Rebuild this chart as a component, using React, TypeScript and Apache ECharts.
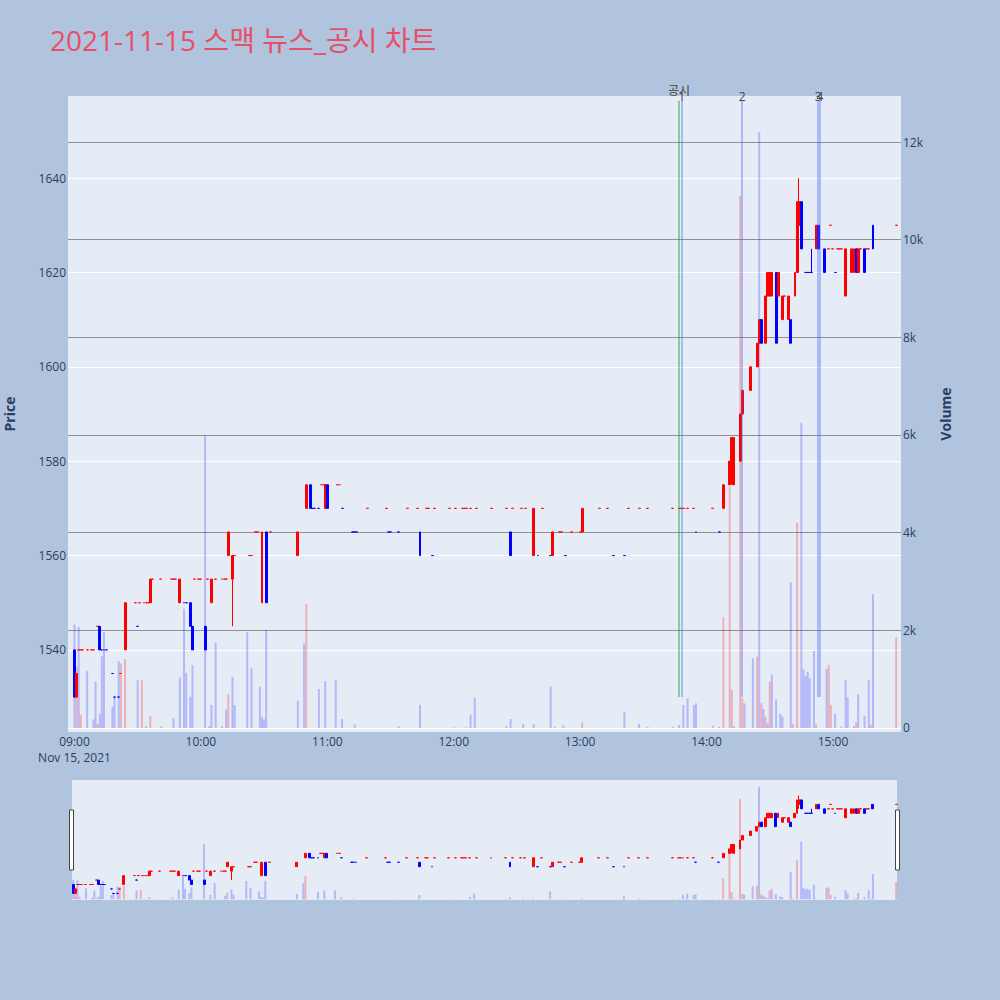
import React, { useEffect, useRef } from 'react';
import * as echarts from 'echarts';

const TITLE = '2021-11-15 스맥 뉴스_공시 차트';
const DATE_LABEL = 'Nov 15, 2021';
// minutes after 09:00
const timeTicks = [0, 60, 120, 180, 240, 300, 360];
const priceTicks = [1540, 1560, 1580, 1600, 1620, 1640];
const volumeTicks = [0, 2000, 4000, 6000, 8000, 10000, 12000];

// [minute, open, close]
const candleRows: number[][] = [
  [0, 1540, 1530], [1, 1530, 1535], [12, 1545, 1540], [24, 1540, 1550], [36, 1550, 1555],
  [50, 1550, 1555], [55, 1550, 1545], [56, 1545, 1540], [62, 1545, 1540], [65, 1550, 1555],
  [73, 1560, 1565], [75, 1555, 1560], [89, 1550, 1565], [91, 1565, 1550], [106, 1560, 1565],
  [110, 1570, 1575], [112, 1575, 1570], [119, 1570, 1575], [120, 1575, 1570], [164, 1565, 1560],
  [207, 1565, 1560], [218, 1560, 1570], [227, 1560, 1565], [241, 1565, 1570], [308, 1570, 1575],
  [311, 1575, 1580], [312, 1580, 1585], [313, 1575, 1585], [316, 1580, 1590], [317, 1590, 1595],
  [321, 1595, 1600], [324, 1600, 1605], [325, 1605, 1610], [326, 1610, 1605], [328, 1605, 1615],
  [329, 1615, 1620], [330, 1615, 1620], [331, 1615, 1620], [333, 1620, 1605], [334, 1615, 1620],
  [336, 1610, 1615], [339, 1610, 1615], [340, 1610, 1605], [342, 1615, 1620], [343, 1620, 1635],
  [344, 1630, 1635], [345, 1635, 1625], [352, 1625, 1630], [353, 1630, 1625], [356, 1625, 1620],
  [366, 1615, 1625], [369, 1620, 1625], [370, 1620, 1625], [371, 1625, 1620], [372, 1620, 1625],
  [375, 1625, 1620], [379, 1630, 1625],
];

// [minute, price, direction(1 up / -1 down)] : open == close
const dojiRows: number[][] = [
  [2, 1540, 1], [3, 1540, 1], [4, 1540, 1], [6, 1540, 1], [8, 1540, 1], [9, 1540, 1], [11, 1545, 1],
  [13, 1540, -1], [14, 1540, -1], [15, 1540, -1], [18, 1535, -1], [19, 1530, -1], [21, 1530, -1],
  [22, 1535, 1], [29, 1550, 1], [30, 1545, -1], [31, 1550, 1], [33, 1550, 1], [34, 1550, 1],
  [35, 1550, 1], [37, 1555, 1], [41, 1555, 1], [46, 1555, 1], [47, 1555, 1], [48, 1555, 1],
  [52, 1550, -1], [53, 1550, -1], [57, 1555, 1], [59, 1555, 1], [60, 1555, 1], [63, 1555, 1],
  [67, 1555, 1], [70, 1555, 1], [71, 1555, 1], [72, 1555, 1], [76, 1560, 1], [83, 1560, 1],
  [84, 1560, 1], [86, 1565, 1], [87, 1565, 1], [93, 1565, 1], [113, 1570, -1], [114, 1570, -1],
  [116, 1570, -1], [117, 1575, 1], [118, 1575, 1], [125, 1575, 1], [126, 1575, 1], [127, 1570, -1],
  [132, 1565, -1], [133, 1565, -1], [134, 1565, -1], [139, 1570, 1], [148, 1570, 1], [149, 1565, -1],
  [150, 1565, -1], [154, 1565, -1], [158, 1570, 1], [163, 1570, 1], [167, 1570, 1], [168, 1570, 1],
  [170, 1560, -1], [171, 1570, 1], [178, 1570, 1], [181, 1570, 1], [184, 1570, 1], [185, 1570, 1],
  [186, 1570, 1], [188, 1570, 1], [191, 1570, 1], [198, 1570, 1], [205, 1570, 1], [208, 1570, 1],
  [212, 1570, 1], [214, 1570, 1], [220, 1560, -1], [222, 1570, 1], [226, 1560, -1], [230, 1565, 1],
  [231, 1565, 1], [233, 1560, -1], [236, 1565, 1], [240, 1565, 1], [249, 1570, 1], [253, 1570, 1],
  [256, 1560, -1], [261, 1560, -1], [263, 1570, 1], [268, 1570, 1], [272, 1570, 1], [284, 1570, 1],
  [287, 1570, 1], [288, 1570, 1], [289, 1570, 1], [291, 1570, 1], [294, 1570, 1], [295, 1565, -1],
  [303, 1570, 1], [306, 1565, -1], [337, 1615, 1], [347, 1620, -1], [348, 1620, -1], [349, 1620, -1],
  [350, 1620, -1], [358, 1625, 1], [359, 1630, 1], [360, 1625, 1], [361, 1620, -1], [362, 1625, 1],
  [363, 1625, 1], [364, 1625, 1], [373, 1625, 1], [376, 1625, 1], [377, 1625, 1], [390, 1630, 1],
];

// [minute, low, high] for candles whose shadow exceeds the body
const wickRows: number[][] = [
  [75, 1545, 1560], [312, 1575, 1585], [344, 1625, 1640], [350, 1620, 1625],
];

// [minute, volume, direction]
const volumeRows: number[][] = [
  [0, 2120, -1], [1, 1250, 1], [2, 2070, -1], [3, 265, 1], [6, 1170, -1], [9, 177, -1], [10, 945, -1],
  [11, 82, 1], [12, 285, -1], [13, 1470, -1], [14, 1965, -1], [18, 435, -1], [19, 640, -1],
  [21, 1370, -1], [22, 1320, 1], [24, 1410, 1], [30, 980, -1], [32, 980, 1], [34, 40, -1],
  [36, 245, 1], [41, 30, -1], [47, 200, -1], [50, 1030, -1], [52, 2440, -1], [53, 1130, -1],
  [55, 640, -1], [56, 1285, -1], [62, 6000, -1], [64, 40, -1], [65, 470, -1], [67, 1750, -1],
  [70, 40, -1], [72, 380, -1], [73, 694, 1], [75, 1050, -1], [76, 470, -1], [82, 1965, -1],
  [84, 1220, -1], [88, 845, -1], [89, 230, -1], [90, 180, -1], [91, 2010, -1], [106, 560, -1],
  [109, 1730, -1], [110, 2540, 1], [116, 800, -1], [119, 965, -1], [124, 980, -1], [127, 185, -1],
  [133, 75, -1], [154, 27, -1], [164, 477, -1], [180, 14, -1], [186, 14, -1], [188, 273, -1],
  [190, 614, -1], [205, 40, -1], [207, 184, -1], [213, 82, -1], [218, 82, -1], [226, 846, -1],
  [228, 27, 1], [232, 55, -1], [241, 116, 1], [261, 327, -1], [268, 82, -1], [272, 27, -1],
  [284, 27, -1], [287, 61, -1], [289, 470, -1], [291, 607, -1], [294, 470, -1], [295, 505, -1],
  [303, 48, 1], [306, 27, -1], [308, 2264, 1], [311, 4940, 1], [312, 777, 1], [313, 40, -1],
  [316, 10900, 1], [317, 607, 1], [318, 505, -1], [322, 1425, -1], [324, 1460, 1], [325, 12200, -1],
  [326, 505, 1], [327, 390, -1], [328, 232, 1], [329, 95, -1], [330, 950, 1], [331, 1100, -1],
  [333, 587, -1], [335, 286, -1], [336, 232, -1], [340, 2980, -1], [341, 80, 1], [343, 4200, 1],
  [345, 6250, -1], [346, 1200, -1], [347, 1064, -1], [348, 1150, -1], [349, 1016, -1], [351, 1575, -1],
  [352, 80, 1], [357, 1207, -1], [358, 1290, 1], [359, 470, 1], [361, 286, -1], [364, 27, -1],
  [366, 982, -1], [367, 627, -1], [370, 40, -1], [371, 116, 1], [372, 689, -1], [375, 252, -1],
  [377, 982, -1], [378, 68, 1], [379, 2740, -1], [390, 1855, 1],
];

// news / disclosure markers (minutes after 09:00)
const newsTimes = [286.9, 288.2, 316.9, 353.0, 353.8];
const newsLabels = ['공시', '1', '2', '3', '4'];
const newsIsDisclosure = [true, false, false, false, false];
const NEWS_LOW = 1530;
const NEWS_HIGH = 1656.4;

const UP = '#ff0000';
const DOWN = '#0000ff';
const FONT = "'Open Sans', 'Noto Sans CJK KR', sans-serif";
const TICK_COLOR = '#2a3f5f';

function fmtTime(v: number) {
  const h = 9 + Math.floor(v / 60);
  const m = v % 60;
  return `${String(h).padStart(2, '0')}:${String(m).padStart(2, '0')}`;
}

function buildCandles() {
  const wick: Record<number, number[]> = {};
  wickRows.forEach((r) => { wick[r[0]] = [r[1], r[2]]; });
  const rows: { m: number; o: number; c: number; d: number }[] = [];
  candleRows.forEach((r) => rows.push({ m: r[0], o: r[1], c: r[2], d: r[2] > r[1] ? 1 : -1 }));
  dojiRows.forEach((r) => rows.push({ m: r[0], o: r[1], c: r[1], d: r[2] }));
  rows.sort((a, b) => a.m - b.m);
  return rows.map((r) => {
    const w = wick[r.m];
    const low = w ? w[0] : Math.min(r.o, r.c);
    const high = w ? w[1] : Math.max(r.o, r.c);
    const col = r.d > 0 ? UP : DOWN;
    return {
      value: [r.m, r.o, r.c, low, high],
      itemStyle: { color: col, color0: col, borderColor: col, borderColor0: col, borderColorDoji: col },
    };
  });
}

function buildVolumes() {
  return volumeRows.map((r) => ({
    value: [r[0], r[1]],
    itemStyle: { color: r[2] > 0 ? 'rgba(255,0,0,0.25)' : 'rgba(0,0,255,0.22)' },
  }));
}

export default function App() {
  const ref = useRef<HTMLDivElement>(null);
  useEffect(() => {
    document.body.style.margin = '0';
    if (!ref.current) return;
    const chart = echarts.init(ref.current, undefined, { renderer: 'svg' });
    const candles = buildCandles();
    const volumes = buildVolumes();
    const newsLines = newsTimes.map((t, i) => [
      {
        name: newsLabels[i],
        coord: [t, NEWS_LOW],
        lineStyle: newsIsDisclosure[i]
          ? { color: 'rgba(0,160,0,0.4)', width: 2, type: 'solid' }
          : { color: 'rgba(70,100,255,0.5)', width: 1.5, type: 'solid' },
        label: { distance: newsIsDisclosure[i] ? 4 : -2 },
      },
      { coord: [t, NEWS_HIGH] },
    ]);

    const option: any = {
      animation: false,
      backgroundColor: '#B0C4DE',
      title: {
        text: TITLE,
        left: 45,
        top: 21,
        textStyle: { fontSize: 28, fontWeight: 'normal', color: '#e94e67', fontFamily: FONT },
      },
      graphic: [
        { type: 'rect', shape: { x: 69.5, y: 810, width: 4, height: 60 }, style: { fill: '#fff', stroke: '#444', lineWidth: 1 }, z: 100 },
        { type: 'rect', shape: { x: 895.5, y: 810, width: 4, height: 60 }, style: { fill: '#fff', stroke: '#444', lineWidth: 1 }, z: 100 },
      ],
      grid: [
        { left: 68, top: 96, width: 833, height: 636, show: true, backgroundColor: '#E5ECF6', borderWidth: 0, containLabel: false, outerBoundsMode: 'none' },
        { left: 72, top: 780, width: 825, height: 120, show: true, backgroundColor: '#E5ECF6', borderWidth: 0, containLabel: false, outerBoundsMode: 'none' },
      ],
      xAxis: [
        {
          type: 'value', gridIndex: 0, min: -3.08, max: 392.3,
          axisLine: { show: false }, axisTick: { show: false, customValues: timeTicks },
          splitLine: { show: false },
          axisLabel: {
            customValues: timeTicks, margin: 1, lineHeight: 16,
            color: TICK_COLOR, fontSize: 12, fontFamily: FONT,
            formatter: (v: number) => (v === 0 ? fmtTime(v) + '\n' + DATE_LABEL : fmtTime(v)),
          },
        },
        { type: 'value', gridIndex: 1, min: -0.6, max: 390.4, show: false },
      ],
      yAxis: [
        {
          type: 'value', gridIndex: 0, position: 'left', min: 1522.6, max: 1657.4,
          name: 'Price', nameLocation: 'middle', nameRotate: 90, nameGap: 52,
          nameTextStyle: { color: TICK_COLOR, fontSize: 14, fontWeight: 'bold', fontFamily: FONT },
          axisLine: { show: false }, axisTick: { show: false, customValues: priceTicks },
          splitLine: { show: true, lineStyle: { color: '#ffffff', width: 1 } },
          axisLabel: {
            customValues: priceTicks, margin: 2, color: TICK_COLOR, fontSize: 12, fontFamily: FONT,
            formatter: (v: number) => String(v),
          },
        },
        {
          type: 'value', gridIndex: 0, position: 'right', min: -82, max: 12942,
          name: 'Volume', nameLocation: 'middle', nameRotate: 90, nameGap: 37,
          nameTextStyle: { color: TICK_COLOR, fontSize: 14, fontWeight: 'bold', fontFamily: FONT },
          axisLine: { show: false }, axisTick: { show: false, customValues: volumeTicks },
          splitLine: {
            show: true,
            lineStyle: { color: ['#ffffff', '#909090', '#909090', '#909090', '#909090', '#909090', '#909090'], width: 1 },
          },
          axisLabel: {
            customValues: volumeTicks, margin: 2, color: TICK_COLOR, fontSize: 12, fontFamily: FONT,
            formatter: (v: number) => (v === 0 ? '0' : v / 1000 + 'k'),
          },
        },
        { type: 'value', gridIndex: 1, min: 1522.6, max: 1657.4, show: false },
        { type: 'value', gridIndex: 1, min: -82, max: 12942, show: false },
      ],
      series: [
        {
          type: 'bar', xAxisIndex: 0, yAxisIndex: 1, data: volumes, barWidth: 2, z: 2,
        },
        {
          type: 'candlestick', xAxisIndex: 0, yAxisIndex: 0, data: candles, barWidth: 2.4, z: 3,
          itemStyle: { borderWidth: 1 },
          markLine: {
            silent: true, symbol: ['none', 'none'], z: 4,
            label: { show: true, position: 'end', formatter: '{b}', color: '#444', fontSize: 12, fontFamily: FONT },
            data: newsLines,
          },
        },
        {
          type: 'bar', xAxisIndex: 1, yAxisIndex: 3, data: volumes, barWidth: 2, z: 2,
        },
        {
          type: 'candlestick', xAxisIndex: 1, yAxisIndex: 2, data: candles, barWidth: 2.4, z: 3,
          itemStyle: { borderWidth: 1 },
        },
      ],
    };
    chart.setOption(option);
    return () => chart.dispose();
  }, []);
  return <div ref={ref} style={{ width: 1000, height: 1000 }} />;
}
